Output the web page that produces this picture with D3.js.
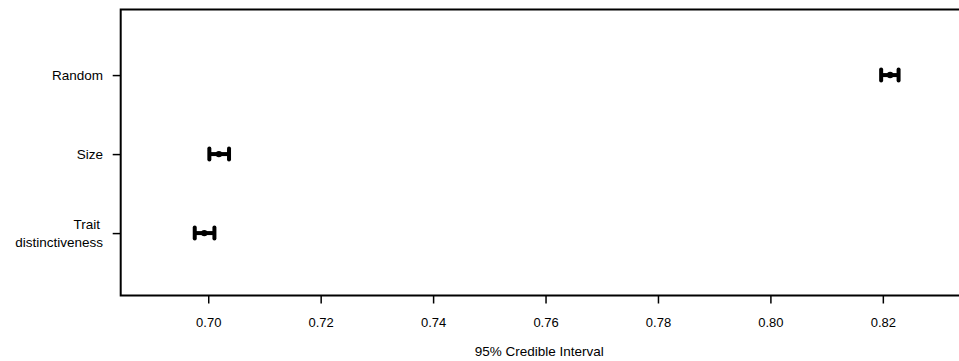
<!DOCTYPE html>
<html>
<head>
<meta charset="utf-8">
<script src="https://cdn.jsdelivr.net/npm/d3@7"></script>
<style>
  body { margin: 0; background: #fff; }
  text { font-family: "Liberation Sans", Arial, Helvetica, sans-serif; font-size: 13.5px; fill: #000; }
</style>
</head>
<body>
<svg id="chart"></svg>
<script>
// data
const categories = ['Random', 'Size', 'Trait distinctiveness'];
const lower = [0.8197, 0.7002, 0.6976];
const upper = [0.8228, 0.7037, 0.7011];
const means = [0.8213, 0.7019, 0.6993];
const xTicks = [0.70, 0.72, 0.74, 0.76, 0.78, 0.80, 0.82];
const catPos = [3, 2, 1];

const width = 959;
const height = 361;
const margin = { top: 9.5, right: -2, bottom: 65.5, left: 120.7 };

const svg = d3.select('#chart')
  .attr('width', width)
  .attr('height', height);

const x = d3.scaleLinear()
  .domain([0.68443, 0.83337])
  .range([margin.left, 958]);

const y = d3.scaleLinear()
  .domain([0.21, 3.83])
  .range([height - margin.bottom, margin.top]);

// x axis
const xAxis = d3.axisBottom(x)
  .tickValues(xTicks)
  .tickFormat(d3.format('.2f'))
  .tickSize(8)
  .tickPadding(14);

const gx = svg.append('g')
  .attr('transform', `translate(0,${height - margin.bottom})`)
  .call(xAxis);
gx.select('.domain').remove();
gx.selectAll('line').attr('stroke', '#000').attr('stroke-width', 1.5);
gx.selectAll('text').style('font-size', '13px');

// y axis
const yAxis = d3.axisLeft(y)
  .tickValues(catPos)
  .tickFormat('')
  .tickSize(8);

const gy = svg.append('g')
  .attr('transform', `translate(${margin.left},0)`)
  .call(yAxis);
gy.select('.domain').remove();
gy.selectAll('line').attr('stroke', '#000').attr('stroke-width', 1.5);

// category labels (multi-line)
categories.forEach((c, i) => {
  const lines = c === 'Trait distinctiveness' ? ['Trait', 'distinctiveness'] : [c];
  const t = svg.append('text')
    .attr('text-anchor', 'end')
    .attr('x', 103)
    .attr('y', y(catPos[i]) - (lines.length - 1) * 9 + 5);
  lines.forEach((l, j) => {
    t.append('tspan')
      .attr('x', l === 'Trait' ? 100 : 103)
      .attr('dy', j === 0 ? 0 : 18)
      .text(l);
  });
});

// frame
svg.append('rect')
  .attr('x', margin.left)
  .attr('y', margin.top)
  .attr('width', 962 - margin.left)
  .attr('height', height - margin.bottom - margin.top)
  .attr('fill', 'none')
  .attr('stroke', '#000')
  .attr('stroke-width', 2);

// intervals
const g = svg.append('g');
categories.forEach((c, i) => {
  const cy = y(catPos[i]);
  g.append('line')
    .attr('x1', x(lower[i])).attr('x2', x(upper[i]))
    .attr('y1', cy).attr('y2', cy)
    .attr('stroke', '#000').attr('stroke-width', 4);
  [lower[i], upper[i]].forEach(v => {
    g.append('line')
      .attr('x1', x(v)).attr('x2', x(v))
      .attr('y1', cy - 5.5).attr('y2', cy + 5.5)
      .attr('stroke', '#000').attr('stroke-width', 4)
      .attr('stroke-linecap', 'round');
  });
  g.append('circle')
    .attr('cx', x(means[i])).attr('cy', cy)
    .attr('r', 3.2).attr('fill', '#000');
});

// x title
svg.append('text')
  .attr('x', (margin.left + 958) / 2)
  .attr('y', 356)
  .attr('text-anchor', 'middle')
  .text('95% Credible Interval');
</script>
</body>
</html>
